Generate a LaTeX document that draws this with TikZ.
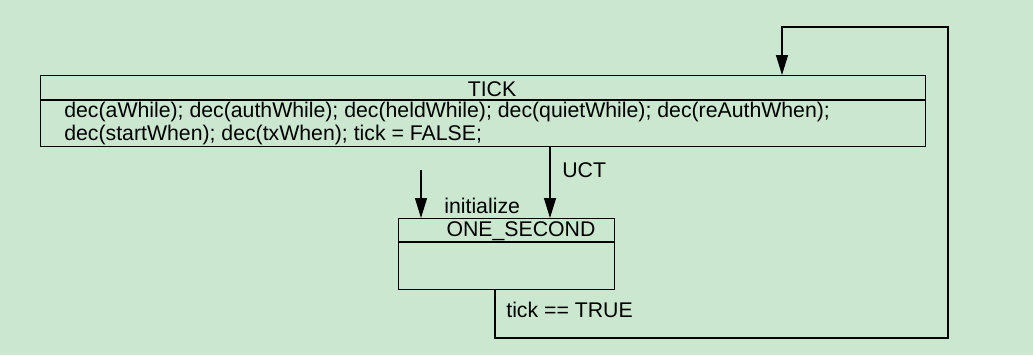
\documentclass[tikz,border=0pt]{standalone}
\usepackage{fontspec}
\setmainfont{Liberation Sans}
\usepackage{xcolor}
\usetikzlibrary{arrows.meta, positioning, calc}

\definecolor{paper}{RGB}{203,231,208}

\tikzset{
    statebox/.style={draw, line width=0.7pt, rectangle, inner sep=0pt, anchor=north west},
    trans/.style={line width=0.7pt, -{Triangle[length=0.4cm, width=0.24cm]}},
    lbl/.style={anchor=west, inner sep=0pt, font=\fontsize{12.1}{13}\selectfont}
}

\begin{document}
\begin{tikzpicture}[x=0.02cm, y=-0.02cm]
    \fill[paper] (0,0) rectangle (1033,355);

    % TICK state
    \node[statebox, minimum width=17.7cm, minimum height=1.42cm] (tick) at (40,75) {};
    \draw[line width=0.7pt] ($(tick.north west)+(0,25)$) -- ($(tick.north east)+(0,25)$);
    \node[lbl, anchor=center] (tickname) at (492,89) {TICK};
    \node[lbl, align=left, anchor=north west] (tickbody) at (64,102)
        {dec(aWhile); dec(authWhile); dec(heldWhile); dec(quietWhile); dec(reAuthWhen);\\
         dec(startWhen); dec(txWhen); tick = FALSE;};

    % ONE_SECOND state
    \node[statebox, minimum width=4.32cm, minimum height=1.42cm] (onesec) at (398,218) {};
    \draw[line width=0.7pt] ($(onesec.north west)+(0,24)$) -- ($(onesec.north east)+(0,24)$);
    \node[lbl, anchor=center] (onesecname) at (521,231) {ONE\_SECOND};

    % transitions
    \coordinate (init) at (421,170);
    \draw[trans] (init) -- (init |- onesec.north);
    \node[lbl] (initlbl) at (444,206) {initialize};

    \coordinate (uct) at (550,146);
    \draw[trans] (uct) -- (uct |- onesec.north);
    \node[lbl] (uctlbl) at (562,170) {UCT};

    \coordinate (back) at (495,289);
    \coordinate (ret) at (782,75);
    \draw[trans] (back) |- (948,338) -- (948,27) -| (ret);
    \node[lbl] (backlbl) at (506,310) {tick == TRUE};
\end{tikzpicture}
\end{document}
